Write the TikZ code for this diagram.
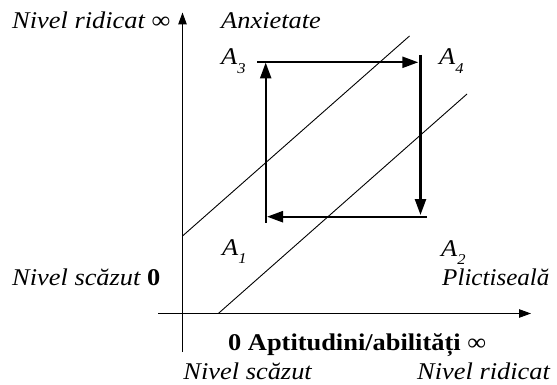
\documentclass[tikz,border=0pt]{standalone}
\usepackage{fontspec}
\setmainfont[FakeStretch=1.1]{Liberation Serif}
\usetikzlibrary{arrows.meta}
\newcommand{\mysub}[1]{\raisebox{-8.5pt}{\fontsize{15}{15}\selectfont\itshape #1}}
\begin{document}
\begin{tikzpicture}[x=1pt,y=-1pt,
  lbl/.style={inner sep=0pt,font=\fontsize{24}{26}\selectfont\itshape},
  blbl/.style={inner sep=0pt,font=\fontsize{24}{26}\selectfont\bfseries},
  axis/.style={line width=1pt,-{Triangle[length=12pt,width=8.5pt]}},
  thin/.style={line width=0.9pt},
  cyc/.style={line width=2.4pt,-{Triangle[length=16pt,width=11pt]}}]
\useasboundingbox (0,0) rectangle (557,385);
% axes
\coordinate (ya) at (182.5,352);
\coordinate (yb) at (182.5,12.5);
\coordinate (xa) at (158,313.5);
\coordinate (xb) at (531,313.5);
\draw[axis] (ya) -- (yb);
\draw[axis] (xa) -- (xb);
% diagonals
\coordinate (ua) at (182.5,236);
\coordinate (ub) at (409.5,36);
\coordinate (la) at (218.3,313.5);
\coordinate (lb) at (467,94);
\draw[thin] (ua) -- (ub);
\draw[thin] (la) -- (lb);
% cycle
\coordinate (p1) at (265.7,222.7);
\coordinate (p1t) at (265.7,62.5);
\coordinate (p3) at (257,62.3);
\coordinate (p3t) at (418.3,62.3);
\coordinate (p4) at (420.5,55);
\coordinate (p4t) at (420.5,215);
\coordinate (p2) at (427,216.7);
\coordinate (p2t) at (267,216.7);
\draw[cyc] (p1) -- (p1t);
\draw[cyc] (p3) -- (p3t);
\draw[cyc] (p4) -- (p4t);
\draw[cyc] (p2) -- (p2t);
% labels
\node[lbl,anchor=base west] (nr) at (12,29) {Nivel ridicat \upshape∞};
\node[lbl,anchor=base west] (anx) at (221,29) {Anxietate};
\node[lbl,anchor=base west] (a3) at (221,65) {A\mysub{3}};
\node[lbl,anchor=base west] (a4) at (439,65) {A\mysub{4}};
\node[lbl,anchor=base west] (a1) at (222,255) {A\mysub{1}};
\node[lbl,anchor=base west] (a2) at (441,256) {A\mysub{2}};
\node[lbl,anchor=base west] (ns) at (12,285) {Nivel scăzut \upshape\bfseries 0};
\node[lbl,anchor=base west] (pl) at (442,285) {\scalebox{0.95}[1]{Plictiseală}};
\node[blbl,anchor=base west] (apt) at (228,350) {0 Aptitudini/abilități \mdseries∞};
\node[lbl,anchor=base east] (ns2) at (312,379) {Nivel scăzut};
\node[lbl,anchor=base west] (nr2) at (417,379) {Nivel ridicat};
\end{tikzpicture}
\end{document}
